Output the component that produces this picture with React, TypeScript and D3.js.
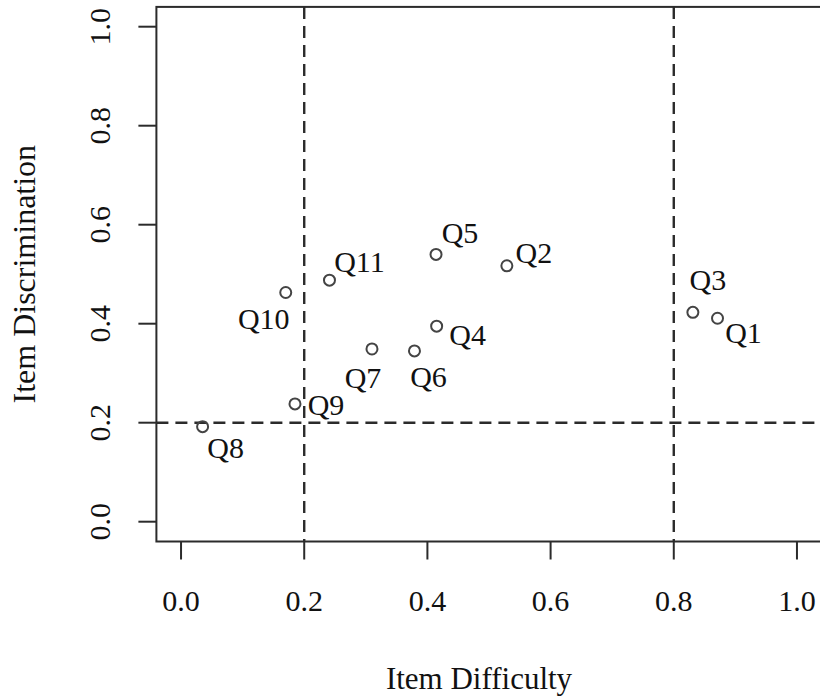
import { useEffect, useRef } from 'react';
import * as d3 from 'd3';

// item analysis values
const items = ['Q1', 'Q2', 'Q3', 'Q4', 'Q5', 'Q6', 'Q7', 'Q8', 'Q9', 'Q10', 'Q11'];
const difficulty = [0.871, 0.529, 0.831, 0.415, 0.414, 0.379, 0.310, 0.035, 0.185, 0.170, 0.241];
const discrimination = [0.411, 0.517, 0.423, 0.395, 0.540, 0.345, 0.349, 0.192, 0.238, 0.463, 0.488];

const xTicks = [0, 0.2, 0.4, 0.6, 0.8, 1.0];
const yTicks = [0, 0.2, 0.4, 0.6, 0.8, 1.0];
const xCutoffs = [0.2, 0.8];
const yCutoffs = [0.2];

// label nudges (px) relative to each point, like text(..., pos=) in R
const labelNudge: Record<string, [number, number]> = {
  Q1: [26, 15], Q2: [27, -13], Q3: [15, -32], Q4: [31, 9], Q5: [24, -21],
  Q6: [14, 26], Q7: [-9, 29], Q8: [23, 21], Q9: [31, 1], Q10: [-22, 26], Q11: [30, -18],
};

const W = 820, H = 700;
const FONT = '"Liberation Serif", "Times New Roman", serif';

function ItemPlot() {
  const ref = useRef<SVGSVGElement>(null);

  useEffect(() => {
    if (!ref.current) return;
    const svg = d3.select(ref.current);
    svg.selectAll('*').remove();

    // R style: 4% padding around [0,1]
    const x = d3.scaleLinear().domain([-0.04, 1.04]).range([156.4, 821.6]);
    const y = d3.scaleLinear().domain([-0.04, 1.04]).range([541.5, 6.9]);
    const ink = '#2b2b2b';
    const fmt = d3.format('.1f');

    // cutoff lines
    svg.selectAll('line.vcut').data(xCutoffs).enter().append('line')
      .attr('x1', d => x(d)).attr('x2', d => x(d))
      .attr('y1', y(1.04)).attr('y2', y(-0.04))
      .attr('stroke', ink).attr('stroke-width', 2.4).attr('stroke-dasharray', '12 7');
    svg.selectAll('line.hcut').data(yCutoffs).enter().append('line')
      .attr('x1', x(-0.04)).attr('x2', x(1.04))
      .attr('y1', d => y(d)).attr('y2', d => y(d))
      .attr('stroke', ink).attr('stroke-width', 2.4).attr('stroke-dasharray', '12 7');

    // box
    svg.append('rect')
      .attr('x', x(-0.04)).attr('y', y(1.04))
      .attr('width', x(1.04) - x(-0.04)).attr('height', y(-0.04) - y(1.04))
      .attr('fill', 'none').attr('stroke', ink).attr('stroke-width', 2);

    // x axis ticks + labels
    const gx = svg.append('g');
    gx.selectAll('line').data(xTicks).enter().append('line')
      .attr('x1', d => x(d)).attr('x2', d => x(d))
      .attr('y1', y(-0.04)).attr('y2', y(-0.04) + 18)
      .attr('stroke', ink).attr('stroke-width', 2);
    gx.selectAll('text').data(xTicks).enter().append('text')
      .attr('x', d => x(d)).attr('y', 611)
      .attr('text-anchor', 'middle')
      .attr('font-family', FONT).attr('font-size', 30).attr('fill', '#111')
      .text(d => fmt(d));

    // y axis ticks + rotated labels
    const gy = svg.append('g');
    gy.selectAll('line').data(yTicks).enter().append('line')
      .attr('x1', x(-0.04) - 18).attr('x2', x(-0.04))
      .attr('y1', d => y(d)).attr('y2', d => y(d))
      .attr('stroke', ink).attr('stroke-width', 2);
    gy.selectAll('text').data(yTicks).enter().append('text')
      .attr('transform', d => `translate(110,${y(d)}) rotate(-90)`)
      .attr('text-anchor', 'middle')
      .attr('font-family', FONT).attr('font-size', 30).attr('fill', '#111')
      .text(d => fmt(d));

    // axis titles
    svg.append('text')
      .attr('x', 479).attr('y', 689)
      .attr('text-anchor', 'middle')
      .attr('font-family', FONT).attr('font-size', 31).attr('fill', '#111')
      .text('Item Difficulty');
    svg.append('text')
      .attr('transform', `translate(35,${(y(-0.04) + y(1.04)) / 2}) rotate(-90)`)
      .attr('text-anchor', 'middle')
      .attr('font-family', FONT).attr('font-size', 32).attr('fill', '#111')
      .text('Item Discrimination');

    // points
    const pts = items.map((name, i) => ({ name, dx: difficulty[i], ds: discrimination[i] }));
    svg.append('g').selectAll('circle').data(pts).enter().append('circle')
      .attr('cx', d => x(d.dx)).attr('cy', d => y(d.ds)).attr('r', 5.5)
      .attr('fill', 'none').attr('stroke', '#444').attr('stroke-width', 2);

    // point labels
    svg.append('g').selectAll('text').data(pts).enter().append('text')
      .attr('x', d => x(d.dx) + labelNudge[d.name][0])
      .attr('y', d => y(d.ds) + labelNudge[d.name][1] + 10)
      .attr('text-anchor', 'middle')
      .attr('font-family', FONT).attr('font-size', 30).attr('fill', '#111')
      .text(d => d.name);
  }, []);

  return (
    <svg ref={ref} width={W} height={H}
      style={{ position: 'absolute', left: 0, top: 0, display: 'block', background: '#fff' }} />
  );
}

export default function App() {
  return <ItemPlot />;
}
